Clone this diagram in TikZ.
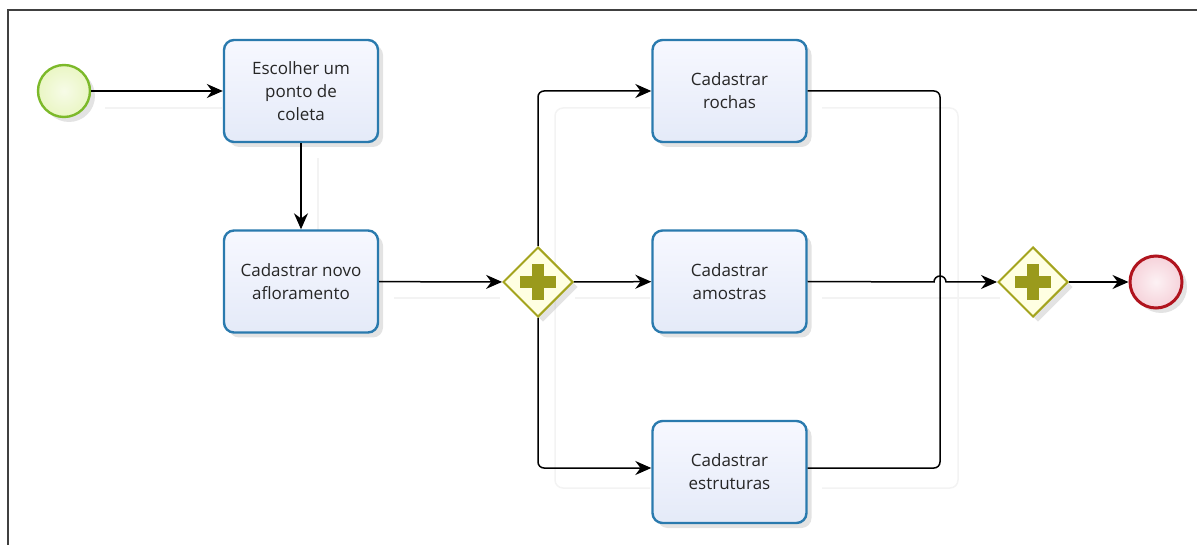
\documentclass[tikz,border=0pt]{standalone}
\usepackage{fontspec}
\setmainfont{Open Sans}
\usetikzlibrary{shapes.geometric,shadows,arrows.meta,calc}
\definecolor{taskline}{HTML}{2A7AAE}
\definecolor{tasktop}{HTML}{F7F8FF}
\definecolor{taskbot}{HTML}{E4EAF8}
\definecolor{gwline}{HTML}{A4A41E}
\definecolor{gwfill}{HTML}{FFFFE2}
\definecolor{plus}{HTML}{9A9A1C}
\definecolor{startline}{HTML}{7CB92A}
\definecolor{startfill}{HTML}{EAF6C4}
\definecolor{endline}{HTML}{B0141E}
\definecolor{endfill}{HTML}{F6D2DA}
\definecolor{ghost}{HTML}{F3F3F3}
\tikzset{
  softshadow/.style={drop shadow={opacity=0.22,shadow xshift=5pt,shadow yshift=-5pt}},
  taskbox/.style={draw=taskline,line width=2.4pt,rounded corners=10pt,
    top color=tasktop,bottom color=taskbot,minimum width=154pt,minimum height=102pt,
    align=center,font=\fontsize{17}{23}\selectfont,text=black!85,softshadow},
  gateway/.style={diamond,draw=gwline,line width=2pt,fill=gwfill,
    minimum width=70pt,minimum height=70pt,inner sep=0pt,softshadow},
  startev/.style={circle,draw=startline,line width=2.4pt,
    inner color=startfill!40,outer color=startfill,
    minimum size=52pt,inner sep=0pt,softshadow},
  endev/.style={circle,draw=endline,line width=3pt,
    inner color=endfill!30,outer color=endfill,minimum size=52pt,inner sep=0pt,softshadow},
  flow/.style={line width=1.5pt,black,-{Stealth[length=16pt,width=14pt]}},
  plain/.style={line width=1.5pt,black},
  ghostline/.style={line width=1.5pt,ghost,rounded corners=8pt}
}
\newcommand{\plussign}[1]{%
  \fill[plus] ($(#1)+(-18pt,-6pt)$) rectangle ($(#1)+(18pt,6pt)$);
  \fill[plus] ($(#1)+(-6pt,-18pt)$) rectangle ($(#1)+(6pt,18pt)$);}
\begin{document}
\begin{tikzpicture}[x=1pt,y=-1pt]
\useasboundingbox (0,0) rectangle (1197,545);
% outer frame of the pool
\draw[line width=2pt,black!75] (8,545) -- (8,10) -- (1197,10);

% faint shadows of the sequence flows
\draw[ghostline] (105,108) -- (222,108);
\draw[ghostline] (318,158) -- (318,230);
\draw[ghostline] (394,298) -- (500,298);
\draw[ghostline] (575,298) -- (650,298);
\draw[ghostline] (822,298) -- (1000,298);
\draw[ghostline] (555,298) -- (555,108) -- (650,108);
\draw[ghostline] (555,298) -- (555,488) -- (650,488);
\draw[ghostline] (822,108) -- (958,108) -- (958,488) -- (822,488);

% events, tasks and gateways
\node[startev] (start) at (64,91) {};
\node[taskbox] (escolher) at (301,91) {Escolher um\\ponto de\\coleta};
\node[taskbox] (novo) at (301,281.5) {Cadastrar novo\\afloramento};
\node[gateway] (split) at (538,282) {};
\node[taskbox] (rochas) at (729.5,91) {Cadastrar\\rochas};
\node[taskbox] (amostras) at (729.5,281.5) {Cadastrar\\amostras};
\node[taskbox] (estruturas) at (729.5,472) {Cadastrar\\estruturas};
\node[gateway] (join) at (1033,282) {};
\node[endev] (end) at (1156,282) {};
\plussign{split}
\plussign{join}

% sequence flows
\draw[flow] (start) -- (escolher);
\draw[flow] (escolher) -- (novo);
\draw[flow] (novo) -- (split);
\draw[flow,rounded corners=6pt] (split.north) |- (rochas.west);
\draw[flow] (split) -- (amostras);
\draw[flow,rounded corners=6pt] (split.south) |- ($(estruturas.west)+(0,-4)$);
\draw[plain,rounded corners=6pt] (rochas.east) -| (940,282);
\draw[plain,rounded corners=6pt] ($(estruturas.east)+(0,-4)$) -| (940,282);
\draw[flow] (amostras.east) -- (934,282) arc[start angle=180,end angle=0,radius=6pt] -- (join.west);
\draw[flow] (join) -- (end);
\end{tikzpicture}
\end{document}
